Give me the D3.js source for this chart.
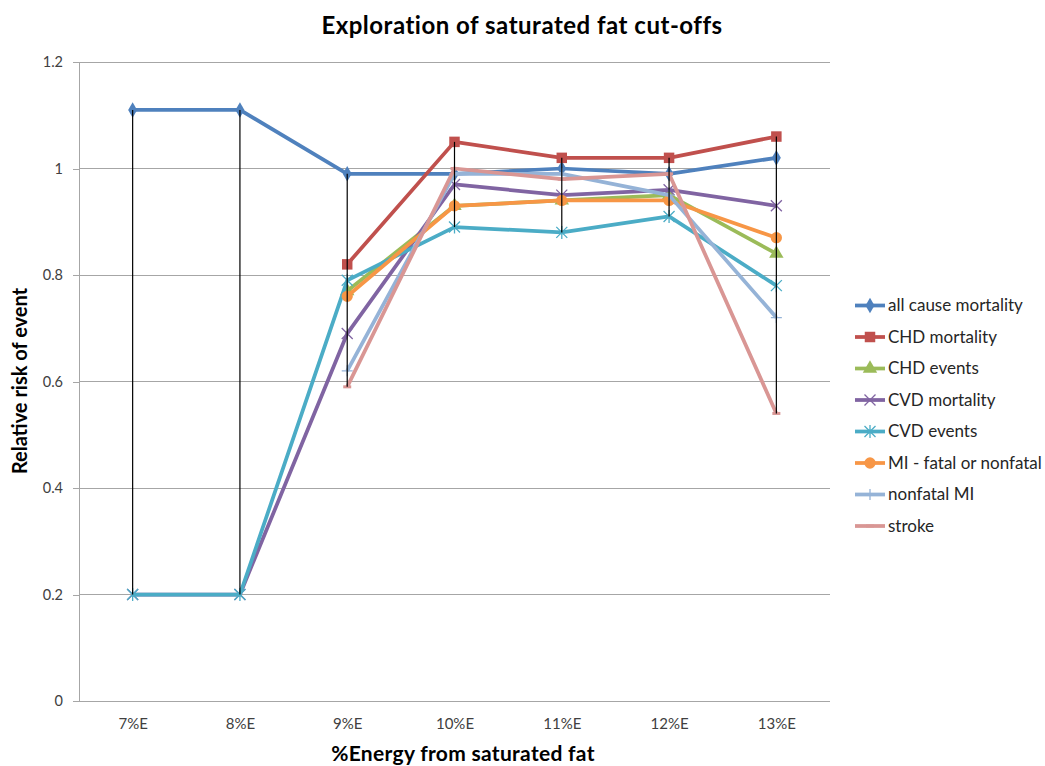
<!DOCTYPE html>
<html>
<head>
<meta charset="utf-8">
<script src="https://cdn.jsdelivr.net/npm/d3@7/dist/d3.min.js"></script>
<style>
  html, body { margin: 0; padding: 0; background: #fff; }
  svg { display: block; font-family: Lato, "Open Sans", sans-serif; }
</style>
</head>
<body>
<svg id="chart" width="1045" height="766"></svg>
<script>
// Categories on the x axis
const categories = ["7%E", "8%E", "9%E", "10%E", "11%E", "12%E", "13%E"];

// Relative risk per series (null = no estimate at that cut-off)
const allCauseMortality = [1.11, 1.11, 0.99, 0.99, 1.00, 0.99, 1.02];
const chdMortality      = [null, null, 0.82, 1.05, 1.02, 1.02, 1.06];
const chdEvents         = [null, null, 0.77, 0.93, 0.94, 0.95, 0.84];
const cvdMortality      = [0.20, 0.20, 0.69, 0.97, 0.95, 0.96, 0.93];
const cvdEvents         = [0.20, 0.20, 0.79, 0.89, 0.88, 0.91, 0.78];
const miFatalNonfatal   = [null, null, 0.76, 0.93, 0.94, 0.94, 0.87];
const nonfatalMI        = [null, null, 0.62, 0.99, 0.99, 0.95, 0.72];
const stroke            = [null, null, 0.59, 1.00, 0.98, 0.99, 0.54];

const seriesNames = ["all cause mortality", "CHD mortality", "CHD events", "CVD mortality",
                     "CVD events", "MI - fatal or nonfatal", "nonfatal MI", "stroke"];
const seriesValues = [allCauseMortality, chdMortality, chdEvents, cvdMortality,
                      cvdEvents, miFatalNonfatal, nonfatalMI, stroke];
const seriesColors = ["#4F81BD", "#C0504D", "#9BBB59", "#8064A2",
                      "#4BACC6", "#F79646", "#95B3D7", "#D99694"];
const seriesMarkers = ["diamond", "square", "triangle", "x", "star", "circle", "plus", "dash"];

// Y axis ticks
const yTicks = [0, 0.2, 0.4, 0.6, 0.8, 1.0, 1.2];
const yTickLabels = ["0", "0.2", "0.4", "0.6", "0.8", "1", "1.2"];

const svg = d3.select("#chart");
const plot = { left: 79, right: 830, top: 62, bottom: 701 };

const x = d3.scalePoint().domain(categories).range([plot.left, plot.right]).padding(0.5);
const y = d3.scaleLinear().domain([0, 1.2]).range([plot.bottom, plot.top]);

// Title
svg.append("text")
  .attr("x", 522).attr("y", 34)
  .attr("text-anchor", "middle")
  .attr("font-size", 24).attr("letter-spacing", 0.5)
  .attr("font-weight", "bold").attr("fill", "#000")
  .text("Exploration of saturated fat cut-offs");

// Horizontal gridlines
svg.append("g")
  .selectAll("line")
  .data(yTicks.filter(d => d > 0))
  .join("line")
  .attr("x1", plot.left).attr("x2", plot.right)
  .attr("y1", d => y(d)).attr("y2", d => y(d))
  .attr("stroke", "#A6A6A6").attr("stroke-width", 1)
  .attr("shape-rendering", "crispEdges");

// Y axis
const yAxis = d3.axisLeft(y)
  .tickValues(yTicks)
  .tickSize(6)
  .tickPadding(10)
  .tickFormat((d, i) => yTickLabels[i]);
const gy = svg.append("g").attr("transform", `translate(${plot.left},0)`).call(yAxis);
gy.select(".domain").attr("stroke", "#A6A6A6").attr("shape-rendering", "crispEdges");
gy.selectAll(".tick line").attr("stroke", "#A6A6A6").attr("shape-rendering", "crispEdges");
gy.selectAll(".tick text").attr("font-family", "Lato, sans-serif").attr("font-size", 14.5).attr("fill", "#404040");

// X axis
const xAxis = d3.axisBottom(x).tickSize(0).tickPadding(17);
const gx = svg.append("g").attr("transform", `translate(0,${plot.bottom})`).call(xAxis);
gx.select(".domain").attr("stroke", "#A6A6A6").attr("shape-rendering", "crispEdges")
  .attr("d", `M${plot.left},0H${plot.right}`);
gx.selectAll(".tick text").attr("font-family", "Lato, sans-serif").attr("font-size", 15).attr("fill", "#404040");

// Axis titles
svg.append("text")
  .attr("transform", "translate(27,381) rotate(-90)")
  .attr("text-anchor", "middle")
  .attr("font-size", 20).attr("font-weight", "bold").attr("fill", "#000")
  .text("Relative risk of event");

svg.append("text")
  .attr("x", 463).attr("y", 761)
  .attr("text-anchor", "middle")
  .attr("font-size", 21).attr("letter-spacing", 0.3)
  .attr("font-weight", "bold").attr("fill", "#000")
  .text("%Energy from saturated fat");

// Marker drawing
function drawMarker(g, type, color) {
  switch (type) {
    case "diamond":
      g.append("path").attr("d", d3.symbol(d3.symbolDiamond, 70)()).attr("fill", color);
      break;
    case "square":
      g.append("path").attr("d", d3.symbol(d3.symbolSquare, 110)()).attr("fill", color);
      break;
    case "triangle":
      g.append("path").attr("d", d3.symbol(d3.symbolTriangle, 90)()).attr("fill", color);
      break;
    case "circle":
      g.append("path").attr("d", d3.symbol(d3.symbolCircle, 100)()).attr("fill", color);
      break;
    case "x":
      g.append("path").attr("d", "M-5.5,-5.5L5.5,5.5M-5.5,5.5L5.5,-5.5")
        .attr("stroke", color).attr("stroke-width", 1.3).attr("fill", "none");
      break;
    case "star":
      g.append("path").attr("d", "M-5.5,-5.5L5.5,5.5M-5.5,5.5L5.5,-5.5M0,-6.5L0,6.5")
        .attr("stroke", color).attr("stroke-width", 1.3).attr("fill", "none");
      break;
    case "plus":
      g.append("path").attr("d", "M-5.5,0L5.5,0M0,-5.5L0,5.5")
        .attr("stroke", color).attr("stroke-width", 1.3).attr("fill", "none");
      break;
    case "dash":
      g.append("path").attr("d", "M-4,0L4,0")
        .attr("stroke", color).attr("stroke-width", 3).attr("fill", "none");
      break;
  }
}

// Series lines and markers
const line = d3.line()
  .defined(d => d.v != null)
  .x(d => x(d.c))
  .y(d => y(d.v));

const seriesG = svg.append("g");
seriesValues.forEach((vals, si) => {
  const pts = vals.map((v, i) => ({ c: categories[i], v }));
  const g = seriesG.append("g");
  g.append("path")
    .datum(pts)
    .attr("d", line)
    .attr("fill", "none")
    .attr("stroke", seriesColors[si])
    .attr("stroke-width", 3.75)
    .attr("stroke-linejoin", "round");
  pts.filter(d => d.v != null).forEach(d => {
    const mg = g.append("g").attr("transform", `translate(${x(d.c)},${y(d.v)})`);
    drawMarker(mg, seriesMarkers[si], seriesColors[si]);
  });
});

// High-low lines: span from the highest to the lowest value at each category
const hiLo = categories.map((c, i) => {
  const vs = seriesValues.map(s => s[i]).filter(v => v != null);
  return { c, hi: d3.max(vs), lo: d3.min(vs) };
});
svg.append("g")
  .selectAll("line")
  .data(hiLo)
  .join("line")
  .attr("x1", d => x(d.c)).attr("x2", d => x(d.c))
  .attr("y1", d => y(d.hi)).attr("y2", d => y(d.lo))
  .attr("stroke", "#000").attr("stroke-width", 1.2);

// Legend
const legend = svg.append("g").attr("transform", "translate(855,305.5)");
seriesNames.forEach((name, si) => {
  const row = legend.append("g").attr("transform", `translate(0,${si * 31.5})`);
  row.append("line")
    .attr("x1", 0).attr("x2", 30).attr("y1", 0).attr("y2", 0)
    .attr("stroke", seriesColors[si]).attr("stroke-width", 3.75);
  const mg = row.append("g").attr("transform", "translate(15,0)");
  drawMarker(mg, seriesMarkers[si], seriesColors[si]);
  row.append("text")
    .attr("x", 33).attr("y", 0).attr("dy", "0.35em")
    .attr("font-size", 17).attr("fill", "#262626")
    .text(name);
});
</script>
</body>
</html>
